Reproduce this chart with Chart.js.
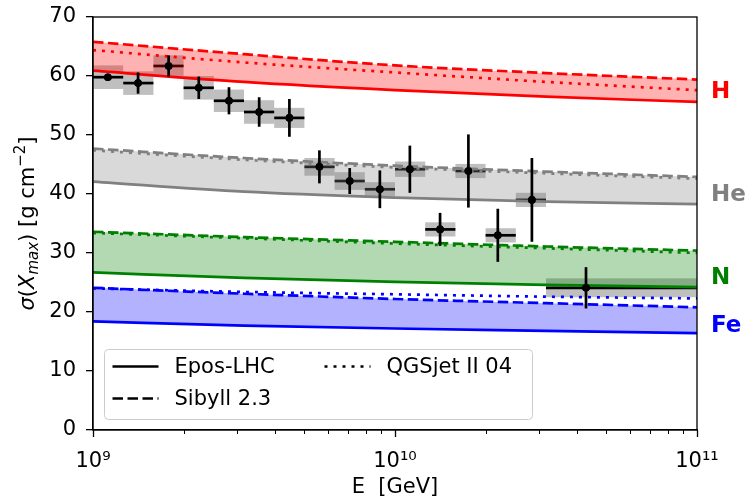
<!DOCTYPE html>
<html lang="en">
<head>
<meta charset="UTF-8">
<title>sigma(Xmax) vs energy</title>
<script src="https://cdn.jsdelivr.net/npm/chart.js"></script>
<style>
  body { margin: 0; background: #fff; }
  #wrap { width: 752px; height: 500px; }
</style>
</head>
<body>
<div id="wrap"><canvas id="chart" width="752" height="500"></canvas></div>
<script>
// model predictions sampled at log10(E/GeV) = 9, 9.5, 10, 10.5, 11
const modelE = [1e9, 3.162e9, 1e10, 3.162e10, 1e11];

const hEpos    = [60.9, 59.0, 57.6, 56.5, 55.6];
const hSibyll  = [65.8, 63.7, 61.8, 60.5, 59.4];
const hQgsjet  = [64.4, 62.3, 60.6, 59.0, 57.6];

const heEpos   = [42.1, 40.4, 39.4, 38.7, 38.3];
const heSibyll = [47.7, 46.1, 44.8, 43.8, 42.9];
const heQgsjet = [47.4, 45.8, 44.5, 43.5, 42.6];

const nEpos    = [26.7, 25.8, 25.1, 24.6, 24.2];
const nSibyll  = [33.6, 32.7, 31.9, 31.1, 30.4];
const nQgsjet  = [33.4, 32.5, 31.6, 30.8, 30.0];

const feEpos   = [18.4, 17.7, 17.2, 16.8, 16.4];
const feSibyll = [24.1, 23.1, 22.2, 21.5, 20.8];
const feQgsjet = [24.0, 23.4, 23.0, 22.6, 22.3];

const modelNames = ['Epos-LHC', 'Sibyll 2.3', 'QGSjet II 04'];
const elements = ['H', 'He', 'N', 'Fe'];

// measured points
const binEdges = [1e9, 1.259e9, 1.585e9, 1.995e9, 2.512e9, 3.162e9, 3.981e9, 5.012e9, 6.31e9,
                  7.943e9, 1e10, 1.259e10, 1.585e10, 1.995e10, 2.512e10, 3.162e10, 1e11];
const ptE     = [1.12e9, 1.41e9, 1.78e9, 2.24e9, 2.82e9, 3.55e9, 4.47e9, 5.62e9, 7.08e9,
                 8.91e9, 1.12e10, 1.41e10, 1.75e10, 2.19e10, 2.84e10, 4.29e10];
const ptSigma = [59.8, 58.8, 61.7, 58.0, 55.8, 53.9, 52.9, 44.6, 42.2, 40.8, 44.2, 34.0, 43.9, 33.0, 39.0, 24.1];
const statErr = [0.5, 1.8, 1.8, 1.9, 2.3, 2.5, 3.2, 2.8, 2.2, 3.2, 4.0, 2.8, 6.2, 4.5, 7.1, 3.5];
const sysErr  = [2.0, 2.0, 1.8, 2.0, 1.9, 2.0, 1.7, 1.5, 1.5, 1.2, 1.3, 1.2, 1.2, 1.2, 1.2, 1.6];

const FONT = '"DejaVu Sans", sans-serif';
const styles = {
  H:  { line: '#ff0000', band: 'rgba(255,0,0,0.3)',     labelAt: 57.2 },
  He: { line: '#808080', band: 'rgba(128,128,128,0.3)', labelAt: 39.8 },
  N:  { line: '#008000', band: 'rgba(0,128,0,0.3)',     labelAt: 25.8 },
  Fe: { line: '#0000ff', band: 'rgba(0,0,255,0.3)',     labelAt: 17.6 }
};
const LW = 2.7;
const dashes = [[], [10.5, 4.5], [3, 6]];
const curves = {
  H:  [hEpos, hSibyll, hQgsjet],
  He: [heEpos, heSibyll, heQgsjet],
  N:  [nEpos, nSibyll, nQgsjet],
  Fe: [feEpos, feSibyll, feQgsjet]
};

const toXY = (xs, ys) => xs.map((v, i) => ({ x: v, y: ys[i] }));

const datasets = [{
  label: 'data',
  data: toXY(ptE, ptSigma),
  showLine: false,
  pointRadius: 3.8,
  pointBackgroundColor: '#000',
  pointBorderWidth: 0,
  order: -1
}];
elements.forEach(el => {
  const st = styles[el];
  curves[el].forEach((vals, m) => {
    datasets.push({
      label: el + ' ' + modelNames[m],
      data: toXY(modelE, vals),
      borderColor: st.line,
      borderWidth: LW,
      borderDash: dashes[m],
      borderCapStyle: 'butt',
      pointRadius: 0,
      cubicInterpolationMode: 'monotone',
      // band between Epos-LHC and Sibyll
      fill: m === 1 ? '-1' : false,
      backgroundColor: st.band
    });
  });
});

const supDigits = { '0': '⁰', '1': '¹', '2': '²', '3': '³', '4': '⁴', '5': '⁵', '6': '⁶', '7': '⁷', '8': '⁸', '9': '⁹' };
const powLabel = v => '10' + String(Math.round(Math.log10(v))).split('').map(c => supDigits[c]).join('');

function drawYTitle(ctx, cx, cy) {
  const big = 21, small = 15;
  const parts = [
    { t: 'σ', f: `italic ${big}px ${FONT}`, dy: 0 },
    { t: '(', f: `${big}px ${FONT}`, dy: 0 },
    { t: 'X', f: `italic ${big}px ${FONT}`, dy: 0 },
    { t: 'max', f: `italic ${small}px ${FONT}`, dy: 5 },
    { t: ') [g cm', f: `${big}px ${FONT}`, dy: 0 },
    { t: '−2', f: `${small}px ${FONT}`, dy: -8 },
    { t: ']', f: `${big}px ${FONT}`, dy: 0 }
  ];
  let total = 0;
  parts.forEach(p => { ctx.font = p.f; p.w = ctx.measureText(p.t).width; total += p.w; });
  ctx.save();
  ctx.translate(cx, cy);
  ctx.rotate(-Math.PI / 2);
  ctx.fillStyle = '#000';
  ctx.textBaseline = 'middle';
  let pos = -total / 2;
  parts.forEach(p => { ctx.font = p.f; ctx.fillText(p.t, pos, p.dy); pos += p.w; });
  ctx.restore();
}

function drawLegend(ctx, a) {
  const x0 = a.left + 11.5, y0 = a.top + 332.5, w = 428, h = 70;
  ctx.save();
  ctx.beginPath();
  ctx.roundRect(x0, y0, w, h, 4);
  ctx.fillStyle = 'rgba(255,255,255,0.8)';
  ctx.fill();
  ctx.strokeStyle = '#cccccc';
  ctx.lineWidth = 1;
  ctx.stroke();
  const slots = [[x0 + 8, y0 + 17], [x0 + 8, y0 + 49], [x0 + 220, y0 + 17]];
  ctx.font = `21px ${FONT}`;
  ctx.textBaseline = 'middle';
  ctx.fillStyle = '#000';
  modelNames.forEach((name, m) => {
    const [lx, ly] = slots[m];
    ctx.beginPath();
    ctx.setLineDash(dashes[m]);
    ctx.lineCap = 'butt';
    ctx.strokeStyle = '#000';
    ctx.lineWidth = LW;
    ctx.moveTo(lx, ly);
    ctx.lineTo(lx + 46, ly);
    ctx.stroke();
    ctx.setLineDash([]);
    ctx.fillText(name, lx + 62, ly + 1);
  });
  ctx.restore();
}

function clipToArea(ctx, a) {
  ctx.beginPath();
  ctx.rect(a.left, a.top, a.right - a.left, a.bottom - a.top);
  ctx.clip();
}

const overlay = {
  id: 'overlay',
  beforeDatasetsDraw(chart) {
    const { ctx, chartArea: a, scales: { x, y } } = chart;
    ctx.save();
    clipToArea(ctx, a);
    // systematic boxes
    ctx.fillStyle = 'rgba(128,128,128,0.5)';
    ptSigma.forEach((s, i) => {
      const x0 = x.getPixelForValue(binEdges[i]), x1 = x.getPixelForValue(binEdges[i + 1]);
      const y0 = y.getPixelForValue(s + sysErr[i]), y1 = y.getPixelForValue(s - sysErr[i]);
      ctx.fillRect(x0, y0, x1 - x0, y1 - y0);
    });
    // bin widths sit under the model curves
    ctx.strokeStyle = '#000';
    ctx.lineWidth = 2.7;
    ptSigma.forEach((s, i) => {
      const py = y.getPixelForValue(s);
      ctx.beginPath();
      ctx.moveTo(x.getPixelForValue(binEdges[i]), py);
      ctx.lineTo(x.getPixelForValue(binEdges[i + 1]), py);
      ctx.stroke();
    });
    ctx.restore();
  },
  afterDatasetsDraw(chart) {
    const { ctx, chartArea: a, scales: { x, y } } = chart;
    ctx.save();
    clipToArea(ctx, a);
    // statistical error bars
    ctx.strokeStyle = '#000';
    ctx.lineWidth = 2.7;
    ptSigma.forEach((s, i) => {
      const px = x.getPixelForValue(ptE[i]);
      ctx.beginPath();
      ctx.moveTo(px, y.getPixelForValue(s + statErr[i]));
      ctx.lineTo(px, y.getPixelForValue(s - statErr[i]));
      ctx.stroke();
      ctx.beginPath();
      ctx.arc(px, y.getPixelForValue(s), 3.8, 0, Math.PI * 2);
      ctx.fillStyle = '#000';
      ctx.fill();
    });
    ctx.restore();
  },
  afterDraw(chart) {
    const { ctx, chartArea: a, scales: { x, y } } = chart;
    ctx.save();
    // axes frame
    ctx.strokeStyle = '#000';
    ctx.lineWidth = 1.3;
    ctx.strokeRect(a.left, a.top, a.right - a.left, a.bottom - a.top);
    // log ticks on the energy axis
    for (let d = 9; d <= 11; d++) {
      for (let m = 1; m <= 9; m++) {
        const v = m * Math.pow(10, d);
        if (v > 1e11) break;
        const px = Math.round(x.getPixelForValue(v)) + 0.5;
        ctx.beginPath();
        ctx.lineWidth = m === 1 ? 1.3 : 1;
        ctx.moveTo(px, a.bottom);
        ctx.lineTo(px, a.bottom + (m === 1 ? 7 : 4));
        ctx.stroke();
      }
    }
    // element labels on the right
    ctx.font = `bold 23px ${FONT}`;
    ctx.textBaseline = 'middle';
    elements.forEach(el => {
      ctx.fillStyle = styles[el].line;
      ctx.fillText(el, a.right + 14, y.getPixelForValue(styles[el].labelAt));
    });
    ctx.restore();
    drawLegend(ctx, a);
    drawYTitle(ctx, 29, (a.top + a.bottom) / 2);
  }
};

Chart.defaults.font.family = FONT;
Chart.defaults.font.size = 21;
Chart.defaults.color = '#000';

new Chart(document.getElementById('chart'), {
  type: 'line',
  data: { datasets },
  plugins: [overlay],
  options: {
    responsive: false,
    devicePixelRatio: 1,
    animation: false,
    layout: { padding: { left: 0, right: 55, top: 17, bottom: 0 } },
    plugins: {
      legend: { display: false },
      tooltip: { enabled: false },
      filler: { propagate: false }
    },
    scales: {
      x: {
        type: 'logarithmic',
        min: 1e9,
        max: 1e11,
        afterBuildTicks: s => { s.ticks = [1e9, 1e10, 1e11].map(v => ({ value: v, major: true })); },
        afterFit: s => { s.height = 70; },
        ticks: { autoSkip: false, maxRotation: 0, padding: 11, callback: v => powLabel(v) },
        grid: { display: false },
        border: { display: true, color: '#000', width: 1.3 },
        title: { display: true, text: 'E  [GeV]', padding: { top: 0, bottom: 0 } }
      },
      y: {
        min: 0,
        max: 70,
        afterFit: s => { s.width = 93; s.paddingTop = 0; s.paddingBottom = 0; },
        ticks: { stepSize: 10, padding: 10 },
        grid: { drawOnChartArea: false, drawTicks: true, tickLength: 7, color: '#000', lineWidth: 1.3 },
        border: { display: true, color: '#000', width: 1.3 }
      }
    }
  }
});
</script>
</body>
</html>
